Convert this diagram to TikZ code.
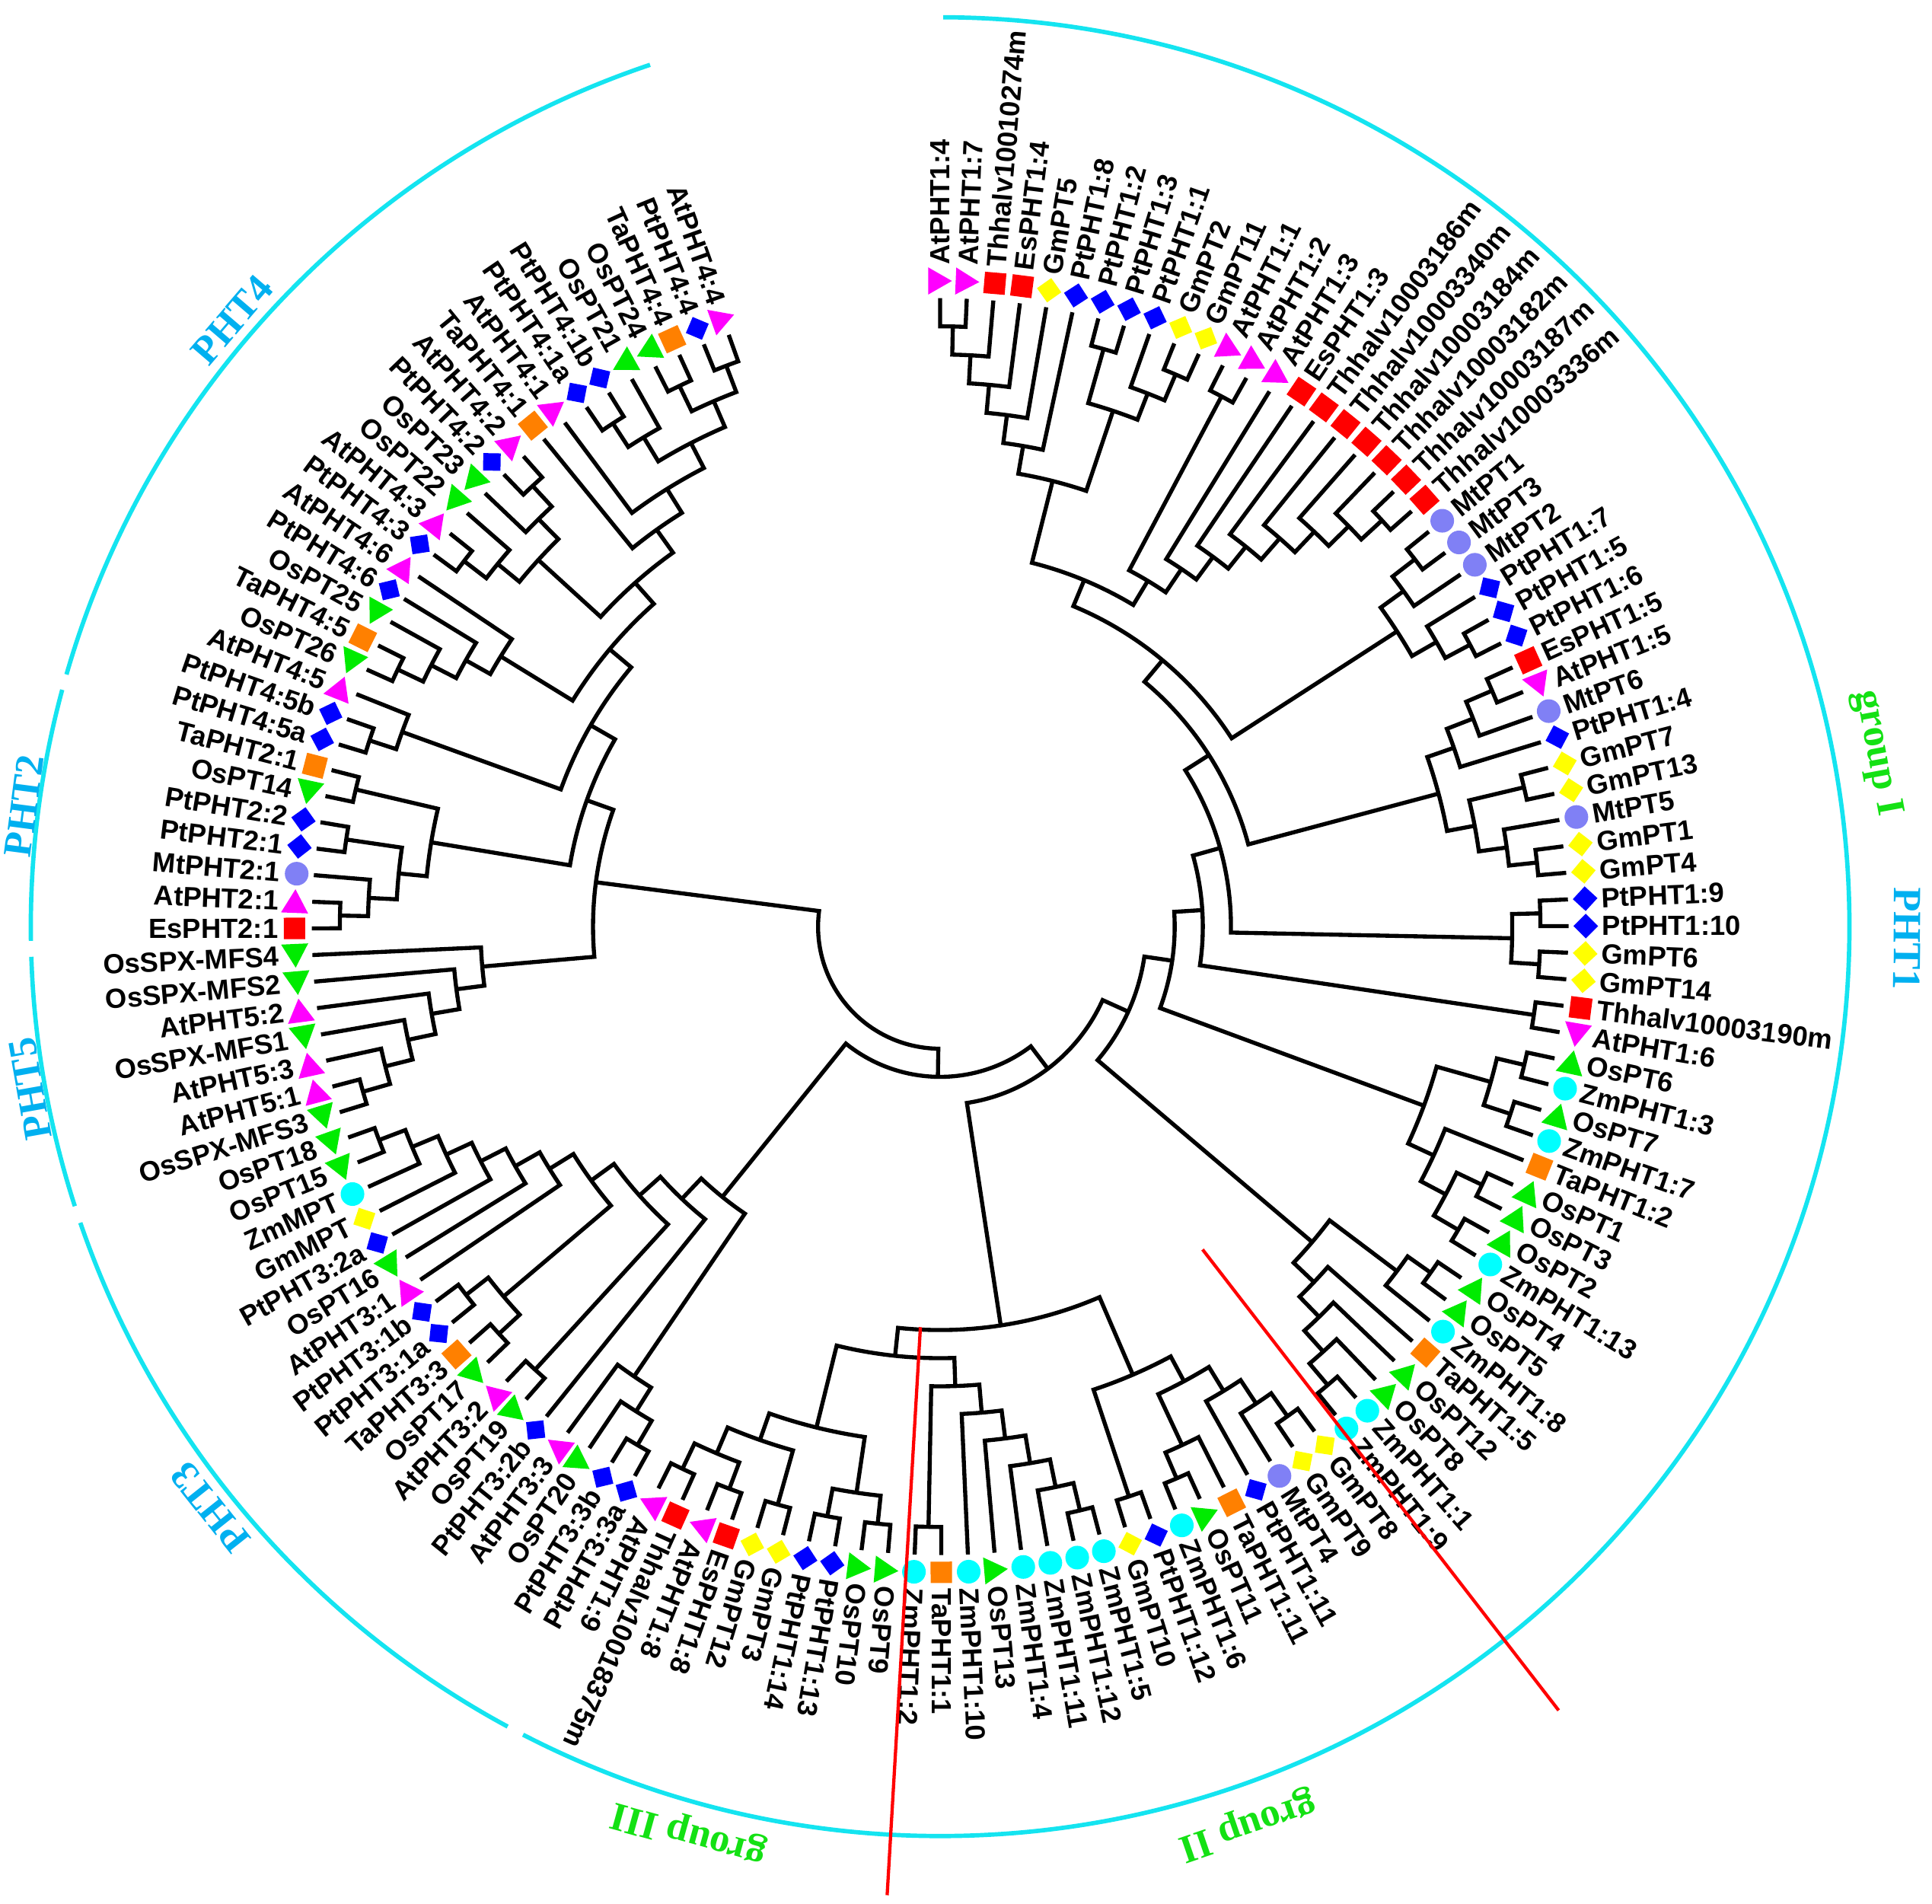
\documentclass[tikz,border=0pt]{standalone}
\usepackage{fontspec}
\newfontfamily\labfont{Liberation Sans}
\newfontfamily\grpfont{Liberation Serif}
\definecolor{cAt}{RGB}{255,0,255}
\definecolor{cOs}{RGB}{0,235,0}
\definecolor{cRed}{RGB}{255,0,0}
\definecolor{cGm}{RGB}{255,255,0}
\definecolor{cPt}{RGB}{0,0,255}
\definecolor{cTa}{RGB}{255,128,0}
\definecolor{cMt}{RGB}{128,128,245}
\definecolor{cZm}{RGB}{0,255,255}
\definecolor{cArc}{RGB}{20,228,240}
\definecolor{cPHT}{RGB}{0,176,240}
\definecolor{cGrp}{RGB}{20,225,20}
\tikzset{
  tree/.style={line width=1.88pt, line join=miter, black},
  grouparc/.style={line width=2pt, cArc},
  redline/.style={line width=1.5pt, cRed},
  lab/.style={inner sep=0pt, font=\labfont\bfseries\fontsize{12.8}{13}\selectfont},
  phtlab/.style={inner sep=0pt, text=cPHT, font=\grpfont\bfseries\fontsize{18.5}{20}\selectfont},
  grplab/.style={inner sep=0pt, text=cGrp, font=\grpfont\bfseries\fontsize{18.5}{20}\selectfont},
}
\def\Rz{510}
\def\Rs{22.83}
\def\Rm{524}
\newcommand\setleaf[1]{%
  \pgfmathsetmacro\tzTmp{90-2.431*#1}%
  \expandafter\xdef\csname TA@l#1\endcsname{\tzTmp}%
  \expandafter\xdef\csname TH@l#1\endcsname{0}%
}
\newcommand\nd[3]{%
  \edef\tzA{\csname TA@#2\endcsname}%
  \edef\tzB{\csname TA@#3\endcsname}%
  \edef\tzHa{\csname TH@#2\endcsname}%
  \edef\tzHb{\csname TH@#3\endcsname}%
  \pgfmathtruncatemacro\tzH{max(\tzHa,\tzHb)+1}%
  \pgfmathsetmacro\tzM{(\tzA+\tzB)/2}%
  \pgfmathsetmacro\tzR{\Rz-\Rs*\tzH}%
  \pgfmathsetmacro\tzRa{\Rz-\Rs*\tzHa}%
  \pgfmathsetmacro\tzRb{\Rz-\Rs*\tzHb}%
  \draw[tree] (\tzA:\tzRa) -- (\tzA:\tzR) arc[start angle=\tzA, end angle=\tzB, radius=\tzR] -- (\tzB:\tzRb);%
  \expandafter\xdef\csname TA@#1\endcsname{\tzM}%
  \expandafter\xdef\csname TH@#1\endcsname{\tzH}%
}
\newcommand\mkAt{\fill[cAt,shift={(\tzT:\Rm)},rotate=\tzT-90] (9.6,0)--(-9.6,11)--(-9.6,-11)--cycle;}
\newcommand\mkOs{\fill[cOs,shift={(\tzT:\Rm)},rotate=\tzT+90] (9.6,0)--(-9.6,11)--(-9.6,-11)--cycle;}
\newcommand\mkTh{\fill[cRed,shift={(\tzT:\Rm)},rotate=\tzT] (-8.7,-8.7) rectangle (8.7,8.7);}
\newcommand\mkEs{\fill[cRed,shift={(\tzT:\Rm)},rotate=\tzT] (-8.7,-8.7) rectangle (8.7,8.7);}
\newcommand\mkTa{\fill[cTa,shift={(\tzT:\Rm)},rotate=\tzT] (-8.7,-8.7) rectangle (8.7,8.7);}
\newcommand\mkGm{\fill[cGm,shift={(\tzT:\Rm)},rotate=\tzT] (10,0)--(0,10)--(-10,0)--(0,-10)--cycle;}
\newcommand\mkPt{\fill[cPt,shift={(\tzT:\Rm)},rotate=\tzT] (10,0)--(0,10)--(-10,0)--(0,-10)--cycle;}
\newcommand\mkMt{\fill[cMt] (\tzT:\Rm) circle[radius=9.6];}
\newcommand\mkZm{\fill[cZm] (\tzT:\Rm) circle[radius=9.6];}
\begin{document}
\begin{tikzpicture}[x=0.02cm,y=0.02cm]
\fill[white] (-763,-793) rectangle (805,752);
\path[use as bounding box] (-763,-793) rectangle (805,752);
% group arcs
\draw[grouparc] (89.8:738) arc[start angle=89.8, end angle=-117.3, radius=738];
\draw[grouparc] (-118.4:738) arc[start angle=-118.4, end angle=-161.0, radius=738];
\draw[grouparc] (-162.1:738) arc[start angle=-162.1, end angle=-178.1, radius=738];
\draw[grouparc] (-179.1:738) arc[start angle=-179.1, end angle=-195.1, radius=738];
\draw[grouparc] (-196.1:738) arc[start angle=-196.1, end angle=-251.4, radius=738];
% group labels
\node[phtlab,rotate=-90.7] (gPHT1) at (-0.7:785) {PHT1};
\node[grplab,rotate=-79.5] (gI) at (10.5:773) {group I};
\node[phtlab,rotate=49.4] (gPHT4) at (139.4:757) {PHT4};
\node[phtlab,rotate=82.5] (gPHT2) at (172.5:750) {PHT2};
\node[phtlab,rotate=100.1] (gPHT5) at (190.1:750) {PHT5};
\node[phtlab,rotate=128.5] (gPHT3) at (218.5:757) {PHT3};
\node[grplab,rotate=164.5] (gIII) at (254.5:763) {group III};
\node[grplab,rotate=198.9] (gII) at (288.9:770) {group II};
% leaves
\foreach \i in {0,...,140}{\setleaf{\i}}
% tree (bottom-up)
\nd{a1}{l0}{l1}\nd{a2}{a1}{l2}\nd{a3}{a2}{l3}\nd{a4}{a3}{l4}\nd{a5}{a4}{l5}
\nd{a6}{l6}{l7}\nd{a7}{l9}{l10}\nd{a8}{l8}{a7}\nd{a9}{a6}{a8}\nd{A}{a5}{a9}
\nd{b1}{l19}{l20}\nd{b2}{l18}{b1}\nd{b3}{l17}{b2}\nd{b4}{l16}{b3}\nd{b5}{l15}{b4}
\nd{b6}{l14}{b5}\nd{b7}{l13}{b6}\nd{b8}{l11}{l12}\nd{B}{b8}{b7}
\nd{C0}{A}{B}
\nd{d1}{l21}{l22}\nd{d2}{d1}{l23}\nd{d3}{l25}{l26}\nd{d4}{l24}{d3}\nd{D1}{d2}{d4}
\nd{N10}{C0}{D1}
\nd{e1}{l27}{l28}\nd{e2}{e1}{l29}\nd{e3}{e2}{l30}\nd{e4}{l31}{l32}\nd{e5}{l34}{l35}
\nd{e6}{l33}{e5}\nd{e7}{e4}{e6}\nd{D2}{e3}{e7}
\nd{N11}{N10}{D2}
\nd{f1}{l36}{l37}\nd{f2}{l38}{l39}\nd{X12}{f1}{f2}
\nd{N12}{N11}{X12}
\nd{X13}{l40}{l41}
\nd{N13}{N12}{X13}
\nd{g1}{l42}{l43}\nd{g2}{l44}{l45}\nd{g3}{g1}{g2}\nd{g4}{l47}{l48}\nd{g5}{l49}{l50}
\nd{g6}{g4}{g5}\nd{g7}{l46}{g6}\nd{X14}{g3}{g7}
\nd{N14}{N13}{X14}
\nd{h1}{l51}{l52}\nd{h2}{h1}{l53}\nd{h3}{l57}{l58}\nd{h4}{l56}{h3}\nd{h5}{l55}{h4}
\nd{h6}{l54}{h5}\nd{X15}{h2}{h6}
\nd{N15}{N14}{X15}
\nd{k1}{l59}{l60}\nd{k2}{l61}{k1}\nd{k3}{l62}{k2}\nd{k4}{l64}{l65}\nd{k5}{l63}{k4}
\nd{k6}{k5}{k3}\nd{k7}{l66}{l67}\nd{G2b}{k7}{k6}
\nd{m1}{l68}{l69}\nd{m2}{l70}{m1}\nd{m3}{l71}{m2}\nd{m4}{l72}{m3}\nd{m5}{l73}{m4}
\nd{m6}{l74}{l75}\nd{Y7b}{m6}{m5}
\nd{p1}{l76}{l77}\nd{p2}{l78}{l79}\nd{p3}{p1}{p2}\nd{p4}{l80}{l81}\nd{p5}{l82}{l83}
\nd{p6}{l84}{l85}\nd{p7}{p5}{p6}\nd{p8}{p4}{p7}\nd{Y7a}{p3}{p8}
\nd{Y7}{Y7a}{Y7b}
\nd{X16}{Y7}{G2b}
\nd{N16}{N15}{X16}
\nd{q1}{l86}{l87}\nd{q2}{l88}{q1}\nd{q3}{l89}{q2}
\nd{z1}{l102}{l103}\nd{z2}{z1}{l101}\nd{z3}{z2}{l100}\nd{z4}{z3}{l99}\nd{z5}{z4}{l98}
\nd{z6}{z5}{l97}\nd{y1}{l95}{l96}\nd{y2}{l93}{l94}\nd{y3}{y1}{y2}\nd{z7}{z6}{y3}
\nd{y4}{l91}{l92}\nd{z8}{z7}{y4}\nd{z9}{z8}{l90}\nd{P3}{z9}{q3}
\nd{N17}{P3}{N16}
\nd{s1}{l104}{l105}\nd{s2}{l106}{s1}\nd{s3}{l107}{s2}\nd{s4}{l108}{s3}\nd{s5}{l109}{s4}
\nd{P5}{l110}{s5}
\nd{t1}{l111}{l112}\nd{t2}{l113}{t1}\nd{t3}{l114}{l115}\nd{t4}{t3}{t2}\nd{t5}{l116}{l117}
\nd{P2}{t5}{t4}
\nd{u1}{l118}{l119}\nd{u2}{l120}{u1}
\nd{v1}{l121}{l122}\nd{v2}{v1}{l123}\nd{v3}{v2}{l124}\nd{v4}{v3}{l125}
\nd{w1}{l126}{l127}\nd{w2}{w1}{l128}\nd{w3}{l130}{l131}\nd{w4}{l129}{w3}\nd{w5}{w2}{w4}
\nd{x1}{l134}{l135}\nd{x2}{x1}{l136}\nd{x3}{l137}{l138}\nd{x4}{l139}{l140}\nd{x5}{x3}{x4}
\nd{x6}{x2}{x5}\nd{x7}{l133}{x6}\nd{x8}{l132}{x7}
\nd{U6}{w5}{x8}\nd{P4b}{v4}{U6}\nd{P4}{u2}{P4b}
\nd{Up}{P2}{P4}
\nd{L}{Up}{P5}
\nd{root}{L}{N17}
% markers and labels
\foreach \lab/\sp [count=\i from 0] in {AtPHT1:4/At,AtPHT1:7/At,Thhalv10010274m/Th,EsPHT1:4/Es,GmPT5/Gm,PtPHT1:8/Pt,PtPHT1:2/Pt,PtPHT1:3/Pt,PtPHT1:1/Pt,GmPT2/Gm,GmPT11/Gm,AtPHT1:1/At,AtPHT1:2/At,AtPHT1:3/At,EsPHT1:3/Es,Thhalv10003186m/Th,Thhalv10003340m/Th,Thhalv10003184m/Th,Thhalv10003182m/Th,Thhalv10003187m/Th,Thhalv10003336m/Th,MtPT1/Mt,MtPT3/Mt,MtPT2/Mt,PtPHT1:7/Pt,PtPHT1:5/Pt,PtPHT1:6/Pt,EsPHT1:5/Es,AtPHT1:5/At,MtPT6/Mt,PtPHT1:4/Pt,GmPT7/Gm,GmPT13/Gm,MtPT5/Mt,GmPT1/Gm,GmPT4/Gm,PtPHT1:9/Pt,PtPHT1:10/Pt,GmPT6/Gm,GmPT14/Gm,Thhalv10003190m/Th,AtPHT1:6/At,OsPT6/Os,ZmPHT1:3/Zm,OsPT7/Os,ZmPHT1:7/Zm,TaPHT1:2/Ta,OsPT1/Os,OsPT3/Os,OsPT2/Os,ZmPHT1:13/Zm,OsPT4/Os,OsPT5/Os,ZmPHT1:8/Zm,TaPHT1:5/Ta,OsPT12/Os,OsPT8/Os,ZmPHT1:1/Zm,ZmPHT1:9/Zm,GmPT8/Gm,GmPT9/Gm,MtPT4/Mt,PtPHT1:11/Pt,TaPHT1:11/Ta,OsPT11/Os,ZmPHT1:6/Zm,PtPHT1:12/Pt,GmPT10/Gm,ZmPHT1:5/Zm,ZmPHT1:12/Zm,ZmPHT1:11/Zm,ZmPHT1:4/Zm,OsPT13/Os,ZmPHT1:10/Zm,TaPHT1:1/Ta,ZmPHT1:2/Zm,OsPT9/Os,OsPT10/Os,PtPHT1:13/Pt,PtPHT1:14/Pt,GmPT3/Gm,GmPT12/Gm,EsPHT1:8/Es,AtPHT1:8/At,Thhalv10018375m/Th,AtPHT1:9/At,PtPHT3:3a/Pt,PtPHT3:3b/Pt,OsPT20/Os,AtPHT3:3/At,PtPHT3:2b/Pt,OsPT19/Os,AtPHT3:2/At,OsPT17/Os,TaPHT3:3/Ta,PtPHT3:1a/Pt,PtPHT3:1b/Pt,AtPHT3:1/At,OsPT16/Os,PtPHT3:2a/Pt,GmMPT/Gm,ZmMPT/Zm,OsPT15/Os,OsPT18/Os,OsSPX-MFS3/Os,AtPHT5:1/At,AtPHT5:3/At,OsSPX-MFS1/Os,AtPHT5:2/At,OsSPX-MFS2/Os,OsSPX-MFS4/Os,EsPHT2:1/Es,AtPHT2:1/At,MtPHT2:1/Mt,PtPHT2:1/Pt,PtPHT2:2/Pt,OsPT14/Os,TaPHT2:1/Ta,PtPHT4:5a/Pt,PtPHT4:5b/Pt,AtPHT4:5/At,OsPT26/Os,TaPHT4:5/Ta,OsPT25/Os,PtPHT4:6/Pt,AtPHT4:6/At,PtPHT4:3/Pt,AtPHT4:3/At,OsPT22/Os,OsPT23/Os,PtPHT4:2/Pt,AtPHT4:2/At,TaPHT4:1/Ta,AtPHT4:1/At,PtPHT4:1a/Pt,PtPHT4:1b/Pt,OsPT21/Os,OsPT24/Os,TaPHT4:4/Ta,PtPHT4:4/Pt,AtPHT4:4/At}{%
  \pgfmathsetmacro\tzT{90-2.431*\i}%
  \csname mk\sp\endcsname
  \ifnum\i<86
    \node[lab,anchor=west,rotate=\tzT] (lab\i) at (\tzT:537) {\lab};
  \else
    \pgfmathsetmacro\tzTr{\tzT+180}%
    \node[lab,anchor=east,rotate=\tzTr] (lab\i) at (\tzT:537) {\lab};
  \fi
}
% red separators
\coordinate (ra1) at (-16,-325);
\coordinate (ra2) at (-43,-786);
\coordinate (rb1) at (213,-262);
\coordinate (rb2) at (502,-636);
\draw[redline] (ra1) -- (ra2);
\draw[redline] (rb1) -- (rb2);
\end{tikzpicture}
\end{document}
